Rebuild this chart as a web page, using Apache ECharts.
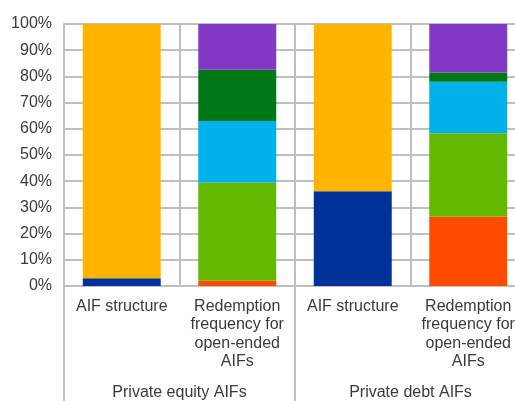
<!DOCTYPE html>
<html><head><meta charset="utf-8">
<script src="https://cdn.jsdelivr.net/npm/echarts@6/dist/echarts.min.js"></script>
<style>html,body{margin:0;padding:0;background:#fff;overflow:hidden}#c{width:540px;height:401px}</style>
</head><body><div id="c"></div>
<script>
var categories = ["AIF structure", "Redemption\nfrequency for\nopen-ended\nAIFs", "AIF structure", "Redemption\nfrequency for\nopen-ended\nAIFs"];
var groups = ["Private equity AIFs", "Private debt AIFs"];
var yTicks = [0, 10, 20, 30, 40, 50, 60, 70, 80, 90, 100];
var seriesNames = ["Open-ended", "Closed-ended", "Daily", "Weekly to monthly", "Quarterly", "Half-yearly to yearly", "Other"];
var openEnded   = [3, null, 36.2, null];
var closedEnded = [97, null, 63.8, null];
var daily       = [null, 2, null, 26.5];
var weeklyMonthly = [null, 37.5, null, 31.8];
var quarterly   = [null, 23.5, null, 19.7];
var halfYearly  = [null, 19.5, null, 3.5];
var other       = [null, 17.5, null, 18.5];
var seriesData = [openEnded, closedEnded, daily, weeklyMonthly, quarterly, halfYearly, other];
var colors = ["#003299", "#FFB400", "#FF4B00", "#65B800", "#00B1EA", "#007816", "#8139C6"];

var gridColor = "#BFBFBF";
var textColor = "#3a3a3a";
var font = "Liberation Sans";

var chart = echarts.init(document.getElementById('c'), null, {renderer: 'canvas'});
chart.setOption({
  animation: false,
  grid: {left: 64, top: 24, width: 462, height: 263, containLabel: false},
  xAxis: [{
    type: 'category', data: categories, position: 'bottom',
    axisLine: {show: true, lineStyle: {color: gridColor, width: 2}},
    axisTick: {show: false},
    splitLine: {show: true, lineStyle: {color: gridColor, width: 2}},
    axisLabel: {interval: 0, color: textColor, fontSize: 16, fontFamily: font, lineHeight: 18.5, margin: 11}
  }, {
    type: 'category', data: groups, position: 'bottom',
    axisLine: {show: false},
    axisTick: {show: true, length: 116, lineStyle: {color: gridColor, width: 2}},
    axisLabel: {interval: 0, color: textColor, fontSize: 16, fontFamily: font, margin: 99}
  }],
  yAxis: {
    type: 'value', min: yTicks[0], max: yTicks[yTicks.length - 1], interval: yTicks[1] - yTicks[0],
    axisLine: {show: true, lineStyle: {color: gridColor, width: 2}},
    axisTick: {show: false},
    splitLine: {show: true, lineStyle: {color: gridColor, width: 2}},
    axisLabel: {formatter: '{value}%', color: textColor, fontSize: 16, fontFamily: font, margin: 12}
  },
  series: seriesData.map(function (d, i) {
    return {
      name: seriesNames[i], type: 'bar', stack: 'total', data: d, xAxisIndex: 0,
      barWidth: '67.5%', itemStyle: {color: colors[i]}
    };
  })
});
</script></body></html>
